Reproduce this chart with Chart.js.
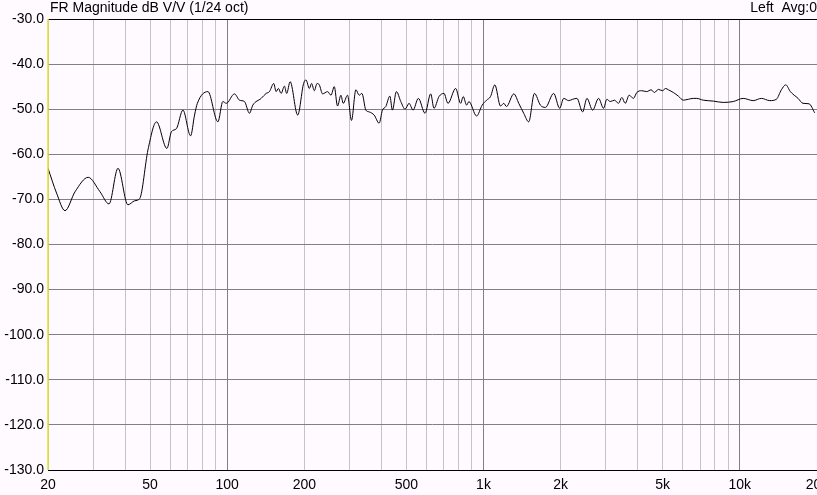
<!DOCTYPE html>
<html>
<head>
<meta charset="utf-8">
<script src="https://cdn.jsdelivr.net/npm/chart.js@4/dist/chart.umd.min.js"></script>
<style>
  html, body { margin: 0; padding: 0; background: #fffaff; }
  #wrap { width: 817px; height: 495px; position: relative; }
</style>
</head>
<body>
<div id="wrap"><canvas id="fr"></canvas></div>
<script>
// frequency (Hz) and magnitude (dB)
const freqs = [20, 21.6, 23.3, 25.5, 28.7, 31.9, 34.6, 37.5, 41.0, 43.6, 45.6, 49.1, 53.0, 58.2, 60.6, 63.4, 67.2, 72.0, 74.6, 76.5,
  84.1, 92.0, 96.2, 99.2, 106.8, 111.7, 116.8, 122.2, 125.9, 135.7, 141.9, 146.2, 151.9, 155.2, 158.5, 162.3, 167.2, 170.7, 176.0, 188.4,
  198.7, 203.0, 209.2, 213.5, 218.8, 224.1, 228.8, 235.6, 246.4, 254.1, 261.7, 269.5, 277.8, 283.7, 294.8, 305.5, 317.8, 327.3, 335.4, 347.6,
  358.1, 374.5, 391.6, 403.4, 415.9, 431.1, 441.2, 457.3, 475.7, 494.3, 512.4, 531.1, 556.9, 591.4, 622.3, 641.0, 670.4, 701.1, 726.7, 778.7,
  814.3, 833.5, 859.4, 877.0, 939.7, 988.1, 1028, 1065, 1107, 1165, 1200, 1229, 1313, 1373, 1435, 1501, 1580, 1667, 1744, 1878,
  1982, 2055, 2149, 2227, 2314, 2436, 2532, 2665, 2812, 2940, 3028, 3122, 3244, 3363, 3464, 3571, 3701, 3846, 3962, 4143,
  4334, 4507, 4643, 4812, 4988, 5137, 5263, 5505, 5757, 6020, 6296, 6584, 6782, 7202, 7876, 8613, 9424, 10306, 11272, 12140,
  13092, 13886, 14524, 15107, 15743, 16871, 17641, 18614, 19590];
const magnitude = [-63.1, -68.6, -72.5, -68.3, -65.1, -68.3, -71.0, -63.1, -71.2, -70.3, -69.8, -59.0, -52.8, -58.7, -55.0, -54.3, -50.2, -55.9, -51.3, -48.7,
  -46.1, -52.8, -48.3, -48.7, -46.6, -48.0, -48.3, -50.9, -49.1, -47.6, -46.5, -46.1, -44.3, -46.1, -45.4, -46.5, -44.9, -46.5, -43.9, -51.3,
  -44.3, -43.5, -45.4, -44.3, -45.9, -44.3, -44.6, -46.6, -46.1, -46.9, -45.0, -49.3, -46.9, -48.7, -46.9, -52.5, -45.7, -46.9, -46.5, -50.2,
  -50.6, -51.3, -53.1, -50.2, -49.4, -47.1, -50.2, -46.1, -48.3, -50.0, -48.7, -50.2, -47.6, -50.9, -46.6, -49.8, -47.2, -46.5, -48.7, -45.4,
  -48.7, -47.2, -49.1, -48.3, -51.5, -49.1, -48.0, -47.2, -44.6, -49.3, -48.7, -49.4, -46.6, -48.7, -50.9, -52.8, -46.5, -49.1, -49.6, -46.5,
  -49.8, -47.6, -48.1, -47.8, -47.6, -50.6, -47.6, -50.2, -47.6, -49.8, -47.8, -48.3, -48.0, -48.7, -47.4, -48.7, -46.9, -47.6, -46.3, -45.9,
  -46.1, -45.7, -46.3, -45.6, -45.9, -45.4, -45.7, -46.3, -47.1, -48.0, -47.8, -47.6, -47.6, -48.0, -48.2, -48.5, -48.3, -47.6, -48.1, -47.6,
  -48.1, -47.8, -45.7, -44.6, -46.1, -47.6, -48.7, -48.8, -50.8];

const gridFreqs = [20, 30, 40, 50, 60, 70, 80, 90, 100, 200, 300, 400, 500, 600, 700, 800, 900,
  1000, 2000, 3000, 4000, 5000, 6000, 7000, 8000, 9000, 10000, 20000];
const labelFreqs = [20, 50, 100, 200, 500, 1000, 2000, 5000, 10000, 20000];
const labelTexts = ['20', '50', '100', '200', '500', '1k', '2k', '5k', '10k', '20k'];
const titleLeft = 'FR Magnitude dB V/V (1/24 oct)';
const titleRight = 'Left  Avg:0';

const FONT = '14px "Liberation Sans", Arial, sans-serif';

const overlay = {
  id: 'overlay',
  afterDraw(chart) {
    const ctx = chart.ctx;
    const x = chart.scales.x;
    const area = chart.chartArea;
    ctx.save();
    ctx.font = FONT;
    ctx.fillStyle = '#000';
    ctx.textBaseline = 'middle';
    ctx.textAlign = 'left';
    ctx.fillText(titleLeft, 50, 8);
    ctx.textAlign = 'right';
    ctx.fillText(titleRight, 817, 8);
    ctx.textAlign = 'center';
    labelFreqs.forEach((f, i) => {
      ctx.fillText(labelTexts[i], x.getPixelForValue(f), area.bottom + 15);
    });
    // yellow left edge
    ctx.strokeStyle = '#e0e030';
    ctx.lineWidth = 1.5;
    ctx.beginPath();
    ctx.moveTo(area.left, area.top);
    ctx.lineTo(area.left, area.bottom);
    ctx.stroke();
    ctx.restore();
  }
};

new Chart(document.getElementById('fr'), {
  type: 'line',
  data: {
    datasets: [{
      data: freqs.map((f, i) => ({ x: f, y: magnitude[i] })),
      borderColor: '#000',
      borderWidth: 1,
      pointRadius: 0,
      cubicInterpolationMode: 'monotone'
    }]
  },
  options: {
    responsive: true,
    maintainAspectRatio: false,
    animation: false,
    layout: { padding: { top: 19, right: 0, left: 0, bottom: 0 } },
    plugins: { legend: { display: false }, tooltip: { enabled: false } },
    scales: {
      x: {
        type: 'logarithmic',
        min: 20,
        max: 20000,
        afterBuildTicks: s => { s.ticks = gridFreqs.map(v => ({ value: v })); },
        afterFit: s => { s.height = 25; s.paddingLeft = 0; s.paddingRight = 0; },
        ticks: { display: false },
        grid: {
          color: c => [100, 1000, 10000].includes(c.tick.value) ? '#808080' : '#c4c4c4',
          drawTicks: false,
          lineWidth: 1
        },
        border: { color: '#000', width: 1 }
      },
      y: {
        min: -130,
        max: -30,
        afterFit: s => { s.width = 48; },
        ticks: {
          stepSize: 10,
          color: '#000',
          font: { family: '"Liberation Sans", Arial, sans-serif', size: 14 },
          padding: 4,
          callback: v => v.toFixed(1)
        },
        grid: {
          color: c => c.tick.value === -30 ? '#000' : '#808080',
          drawTicks: false
        },
        border: { display: false }
      }
    }
  },
  plugins: [overlay]
});
</script>
</body>
</html>
